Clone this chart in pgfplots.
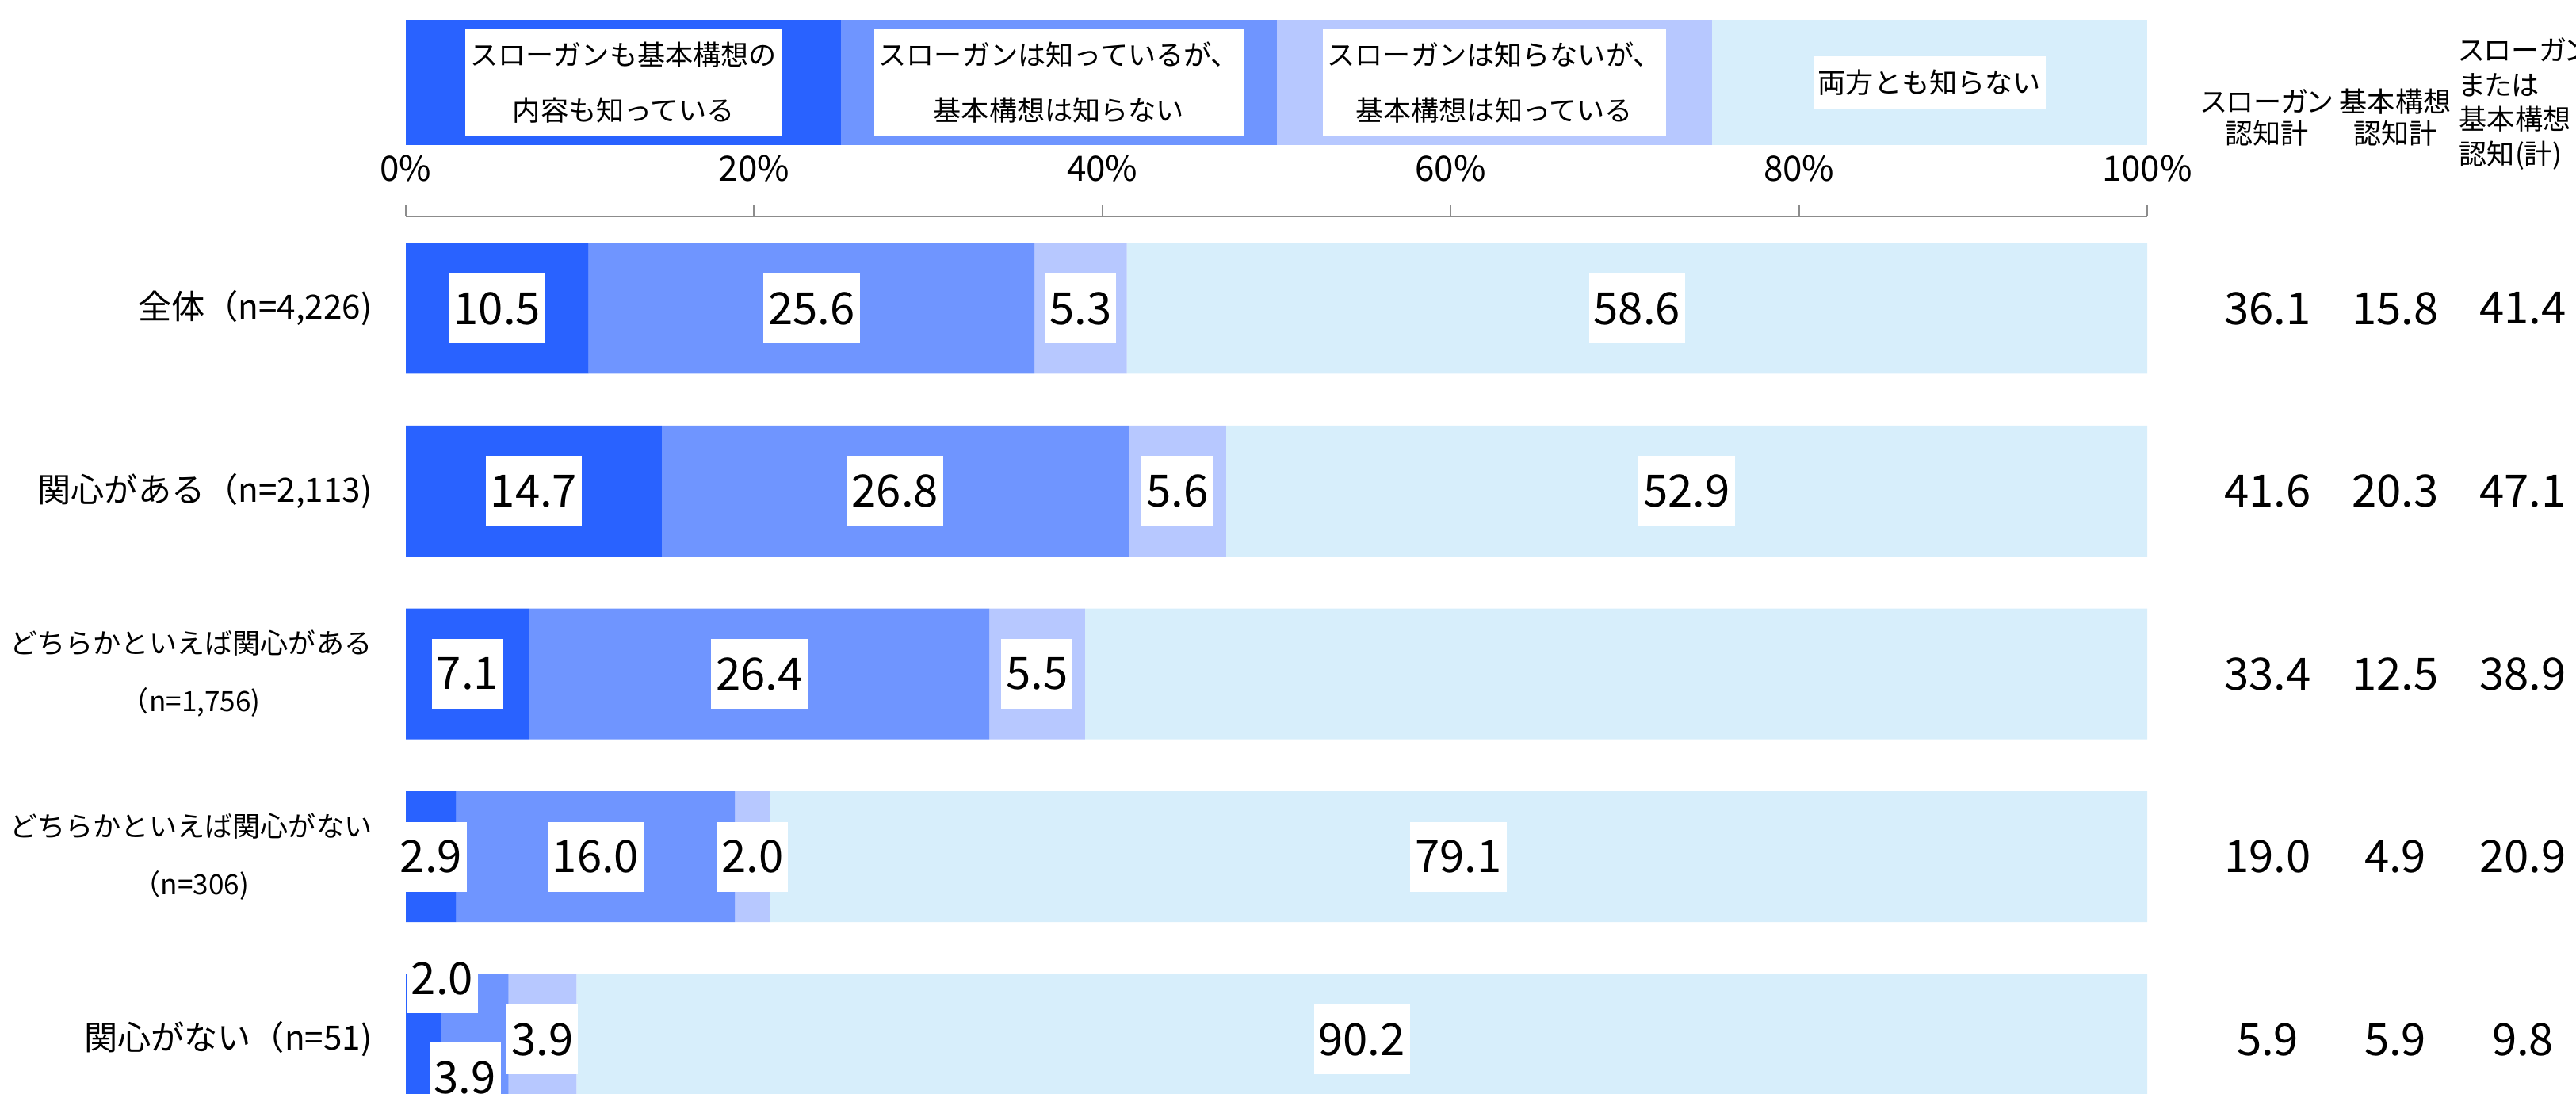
\documentclass[border=0pt]{standalone}
\usepackage{fontspec}
\setmainfont{Noto Sans CJK JP}
\newfontfamily\jpp[RawFeature=+palt]{Noto Sans CJK JP}
\usepackage{pgfplots}
\usepackage{pgfplotstable}
\pgfplotsset{compat=1.18}

\definecolor{cA}{RGB}{41,98,255}
\definecolor{cB}{RGB}{111,149,255}
\definecolor{cC}{RGB}{183,200,255}
\definecolor{cD}{RGB}{215,238,251}
\definecolor{axgray}{RGB}{140,140,140}

% rows: y=4 is the top row (全体)
% ax/ay, bx/by: label nudges in mm for the crowded last row
\pgfplotstableread{
y a b c d ax ay bx by
4 10.5 25.6 5.3 58.6 0 0 0 0
3 14.7 26.8 5.6 52.9 0 0 0 0
2 7.1 26.4 5.5 61.1 0 0 0 0
1 2.9 16.0 2.0 79.1 0 0 0 0
0 2.0 3.9 3.9 90.2 2.4 7.7 -1.2 -4.8
}\maindata

% スローガン認知計, 基本構想認知計, どちらか認知(計)
\pgfplotstableread{
y s k t
4 36.1 15.8 41.4
3 41.6 20.3 47.1
2 33.4 12.5 38.9
1 19.0 4.9 20.9
0 5.9 5.9 9.8
}\sidedata

% stacked bars already put their labels in the middle of each segment
\pgfplotsset{
  vlab/.style={
    nodes near coords={\pgfmathprintnumber[fixed,fixed zerofill,precision=1]{\pgfplotspointmeta}},
    point meta=explicit,
    every node near coord/.append style={anchor=center, fill=white, text=black,
      inner xsep=0.6mm, inner ysep=0pt, minimum height=8.8mm,
      font=\fontsize{16}{16}\selectfont,
      xshift={\dx*1mm}, yshift={\dy*1mm}},
  },
  leg/.style={fill=#1, draw=none,
    every node near coord/.append style={anchor=center, fill=white, text=black,
      align=center, inner xsep=0.6mm, inner ysep=1.7mm,
      font=\fontsize{10}{19.9}\selectfont}},
}

\begin{document}
\begin{tikzpicture}
\useasboundingbox (0,0) rectangle (325mm,-138mm);

% legend drawn as one stacked bar of four equal parts
\begin{axis}[
  at={(51.2mm,-2.5mm)}, anchor=north west,
  width=219.7mm, height=15.8mm, scale only axis,
  xbar stacked, bar width=15.8mm,
  xmin=0, xmax=100, ymin=-0.5, ymax=0.5,
  enlargelimits=false, hide axis, clip=false,
]
\addplot[leg=cA, nodes near coords={スローガンも基本構想の\\内容も知っている}] coordinates {(25,0)};
\addplot[leg=cB, nodes near coords={スローガンは知っているが、\\基本構想は知らない}] coordinates {(25,0)};
\addplot[leg=cC, nodes near coords={スローガンは知らないが、\\基本構想は知っている}] coordinates {(25,0)};
\addplot[leg=cD, nodes near coords={両方とも知らない}] coordinates {(25,0)};
\end{axis}

% main chart
\begin{axis}[
  at={(51.2mm,-27.3mm)}, anchor=north west,
  width=219.7mm, height=110.7mm, scale only axis,
  xbar stacked, bar width=16.5mm,
  xmin=0, xmax=100, ymin=-0.299, ymax=4.503,
  enlargelimits=false,
  /pgf/number format/assume math mode=true,
  axis x line*=top, axis y line*=left,
  x axis line style={draw=axgray, line width=0.2mm},
  y axis line style={draw=none},
  xtick={0,20,40,60,80,100},
  xticklabels={0\%,20\%,40\%,60\%,80\%,100\%},
  xtick style={draw=axgray, line width=0.2mm},
  tick align=outside, major tick length=1.4mm,
  xticklabel style={anchor=base, inner sep=0pt, yshift=3.05mm,
    font=\fontsize{12.5}{14}\selectfont},
  ytick={0,1,2,3,4},
  yticklabels={
    {\fontsize{12}{14}\selectfont 関心がない（n=51)},
    {どちらかといえば関心がない\\（n=306)},
    {どちらかといえば関心がある\\（n=1,756)},
    {\fontsize{12}{14}\selectfont 関心がある（n=2,113)},
    {\fontsize{12}{14}\selectfont 全体（n=4,226)}},
  ytick style={draw=none},
  yticklabel style={anchor=east, align=center, inner sep=0pt, xshift=-2.8mm,
    font=\fontsize{10}{20.8}\selectfont},
]
\addplot[fill=cA, draw=none, vlab,
  visualization depends on={\thisrow{ax} \as \dx},
  visualization depends on={\thisrow{ay} \as \dy}]
  table[x=a, y=y, meta=a] {\maindata};
\addplot[fill=cB, draw=none, vlab,
  visualization depends on={\thisrow{bx} \as \dx},
  visualization depends on={\thisrow{by} \as \dy}]
  table[x=b, y=y, meta=b] {\maindata};
\addplot[fill=cC, draw=none, vlab,
  visualization depends on={0*\thisrow{c} \as \dx},
  visualization depends on={0*\thisrow{c} \as \dy}]
  table[x=c, y=y, meta=c] {\maindata};
\addplot[fill=cD, draw=none, vlab,
  visualization depends on={0*\thisrow{d} \as \dx},
  visualization depends on={0*\thisrow{d} \as \dy}]
  table[x=d, y=y, meta=d] {\maindata};
\end{axis}

% summary columns on the right
\begin{axis}[
  at={(270mm,-27.3mm)}, anchor=north west,
  width=55mm, height=110.7mm, scale only axis,
  xmin=0, xmax=3.416, ymin=-0.299, ymax=4.503,
  enlargelimits=false, hide axis, clip=false,
  /pgf/number format/assume math mode=true,
  nodes near coords={\pgfmathprintnumber[fixed,fixed zerofill,precision=1]{\pgfplotspointmeta}},
  point meta=explicit,
  every node near coord/.append style={anchor=center, text=black, inner sep=0pt,
    font=\fontsize{16}{16}\selectfont},
]
\addplot[draw=none, mark=none] table[x expr=1, y=y, meta=s] {\sidedata};
\addplot[draw=none, mark=none] table[x expr=2, y=y, meta=k] {\sidedata};
\addplot[draw=none, mark=none] table[x expr=3, y=y, meta=t] {\sidedata};
\end{axis}

\node[align=center, font=\jpp\fontsize{10}{11.4}\selectfont, inner sep=0pt]
  at (286.0mm,-14.8mm) {スローガン\\認知計};
\node[align=center, font=\jpp\fontsize{10}{11.4}\selectfont, inner sep=0pt]
  at (302.2mm,-14.8mm) {基本構想\\認知計};
\node[align=left, anchor=west, font=\jpp\fontsize{10}{12.4}\selectfont, inner sep=0pt]
  at (310.2mm,-13.1mm) {スローガン\\または\\基本構想\\認知(計)};
\end{tikzpicture}
\end{document}
